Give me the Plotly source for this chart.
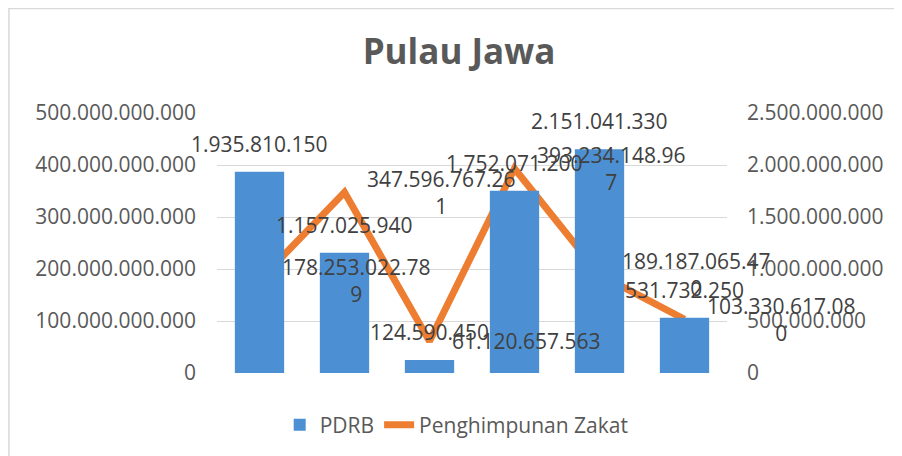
import plotly.graph_objects as go

# Data
provinces = ["DKI Jakarta", "Jawa Barat", "Jawa Tengah", "DI Yogyakarta", "Jawa Timur", "Banten"]
pdrb = [1935810150, 1157025940, 124590450, 1752071200, 2151041330, 531732250]
zakat = [178253022789, 347596767261, 61120657563, 393234148967, 189187065470, 103330617080]


def fmt(v):
    return f"{v:,}".replace(",", ".")


def wrap(s, n=14):
    # Excel wraps long labels onto a second line
    return s if len(s) <= n else s[:n] + "<br>" + s[n:]


FONT = "Open Sans"
GRAY = "#595959"
DARK = "#404040"

fig = go.Figure()
fig.add_trace(go.Bar(
    x=provinces, y=pdrb, name="PDRB", yaxis="y2",
    marker=dict(color="#4C90D3", line=dict(width=0)),
    width=0.58,
))
fig.add_trace(go.Scatter(
    x=provinces, y=zakat, name="Penghimpunan Zakat", mode="lines",
    line=dict(color="#ED7D31", width=7),
))

annotations = []
for p, v in zip(provinces, pdrb):
    annotations.append(dict(
        x=p, y=v, xref="x", yref="y2", text=fmt(v), showarrow=False,
        yanchor="bottom", yshift=12, font=dict(family=FONT, size=21, color=DARK),
    ))
for p, v in zip(provinces, zakat):
    annotations.append(dict(
        x=p, y=v, xref="x", yref="y", text=wrap(fmt(v)), showarrow=False,
        xanchor="left", xshift=20, yanchor="middle", align="center",
        font=dict(family=FONT, size=21, color=DARK),
    ))

fig.update_layout(
    width=902, height=456,
    margin=dict(l=209, r=183, t=105, b=91),
    paper_bgcolor="white", plot_bgcolor="white",
    separators=",.",
    font=dict(family=FONT, size=21, color=GRAY),
    title=dict(text="<b>Pulau Jawa</b>", x=0.5, xanchor="center", y=0.905, yanchor="middle",
               font=dict(family=FONT, size=35, color=GRAY)),
    xaxis=dict(type="category", range=[-0.5, 5.5], showticklabels=False, showgrid=False,
               ticks="", zeroline=False, automargin=False),
    yaxis=dict(range=[0, 500e9], dtick=100e9, tickformat=",d", gridcolor="#D9D9D9",
               zeroline=False, ticklabelstandoff=20, showline=False, automargin=False),
    yaxis2=dict(range=[0, 2.5e9], dtick=0.5e9, tickformat=",d", overlaying="y", side="right",
                showgrid=False, zeroline=False, ticklabelstandoff=19, automargin=False),
    bargap=0.42,
    legend=dict(orientation="h", x=0.47, xanchor="center", y=-0.2, yanchor="middle",
                font=dict(family=FONT, size=21, color=GRAY)),
    annotations=annotations,
    shapes=[dict(type="rect", xref="paper", yref="paper", x0=-0.408, x1=1.5, y0=-0.5, y1=1.402,
                 line=dict(color="#D9D9D9", width=1.5), layer="below")],
)

fig.write_html("out.html")
